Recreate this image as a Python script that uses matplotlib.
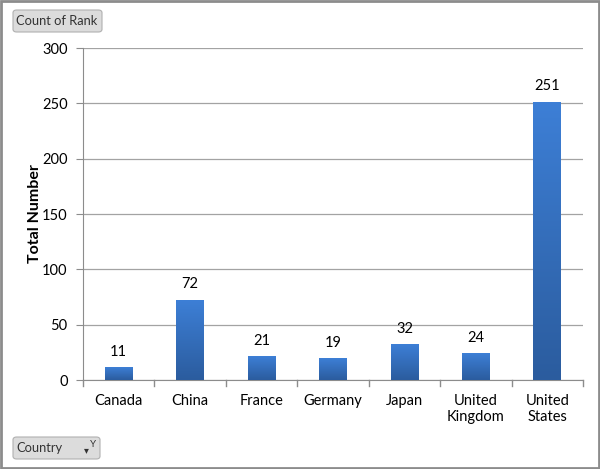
import numpy as np
import matplotlib
matplotlib.use("Agg")
import matplotlib.pyplot as plt
from matplotlib.patches import FancyBboxPatch, Rectangle

countries = ["Canada", "China", "France", "Germany", "Japan", "United\nKingdom", "United\nStates"]
counts = [11, 72, 21, 19, 32, 24, 251]
yticks = [0, 50, 100, 150, 200, 250, 300]

plt.rcParams['font.family'] = ['Lato', 'DejaVu Sans']

fig = plt.figure(figsize=(6, 4.69), dpi=100)
ax = fig.add_axes([83/600, 1 - 380/469, 500/600, 332/469])

x = np.arange(len(countries))
bar_w = 0.39
bars = ax.bar(x, counts, width=bar_w, color='none', edgecolor='none', zorder=3)

# vertical gradient inside each bar
grad = np.linspace(0, 1, 256).reshape(-1, 1)
cmap = matplotlib.colors.LinearSegmentedColormap.from_list('b', ['#2b5c9e', '#3d7fd6'])
for b in bars:
    x0, w, h = b.get_x(), b.get_width(), b.get_height()
    ax.imshow(grad, extent=[x0, x0 + w, 0, h], origin='lower', cmap=cmap,
              aspect='auto', zorder=3)
    ax.text(x0 + w / 2, h + 8, f"{int(h)}", ha='center', va='bottom', fontsize=10.5, color='#000000')

ax.set_xlim(-0.5, len(countries) - 0.5)
ax.set_ylim(0, 300)
ax.set_yticks(yticks)
ax.set_xticks(x)
ax.set_xticklabels(countries, fontsize=10.5, linespacing=1.15)
ax.tick_params(axis='y', labelsize=10.5, length=5, color='#8c8c8c', pad=6)
ax.tick_params(axis='x', length=0, pad=10)
# category separator ticks
for k in range(len(countries) + 1):
    ax.plot([k - 0.5, k - 0.5], [0, -5], color='#8c8c8c', lw=1, clip_on=False, zorder=4)

ax.grid(axis='y', color='#a3a3a3', lw=0.9, zorder=0)
ax.set_axisbelow(True)
for s in ['top', 'right']:
    ax.spines[s].set_visible(False)
ax.spines['left'].set_color('#8c8c8c')
ax.spines['bottom'].set_color('#8c8c8c')
ax.set_ylabel('Total Number', fontsize=11.5, fontweight='bold', labelpad=0)

# outer frame
fig.patches.append(Rectangle((0.002, 0.002), 0.996, 0.996, transform=fig.transFigure,
                             fill=False, edgecolor='#8c8c8c', lw=2))

# field buttons
def button(x0, y0, w, h, label):
    p = FancyBboxPatch((x0 / 600, 1 - (y0 + h) / 469), w / 600, h / 469,
                       boxstyle='round,pad=0,rounding_size=0.006', transform=fig.transFigure,
                       facecolor='#dcdcdc', edgecolor='#b0b0b0', lw=0.8)
    fig.patches.append(p)
    fig.text((x0 + 3) / 600, 1 - (y0 + h / 2) / 469, label, ha='left', va='center',
             fontsize=9.3, color='#333333')

button(13, 10, 89, 22, 'Count of Rank')
button(13, 437, 87, 22, 'Country')
fig.text(86 / 600, 1 - 451 / 469, '\u25be', ha='center', va='center', fontsize=7, color='#333333')
fig.text(93 / 600, 1 - 444 / 469, 'Y', ha='center', va='center', fontsize=7, color='#333333')

fig.savefig('out.png', dpi=100)
